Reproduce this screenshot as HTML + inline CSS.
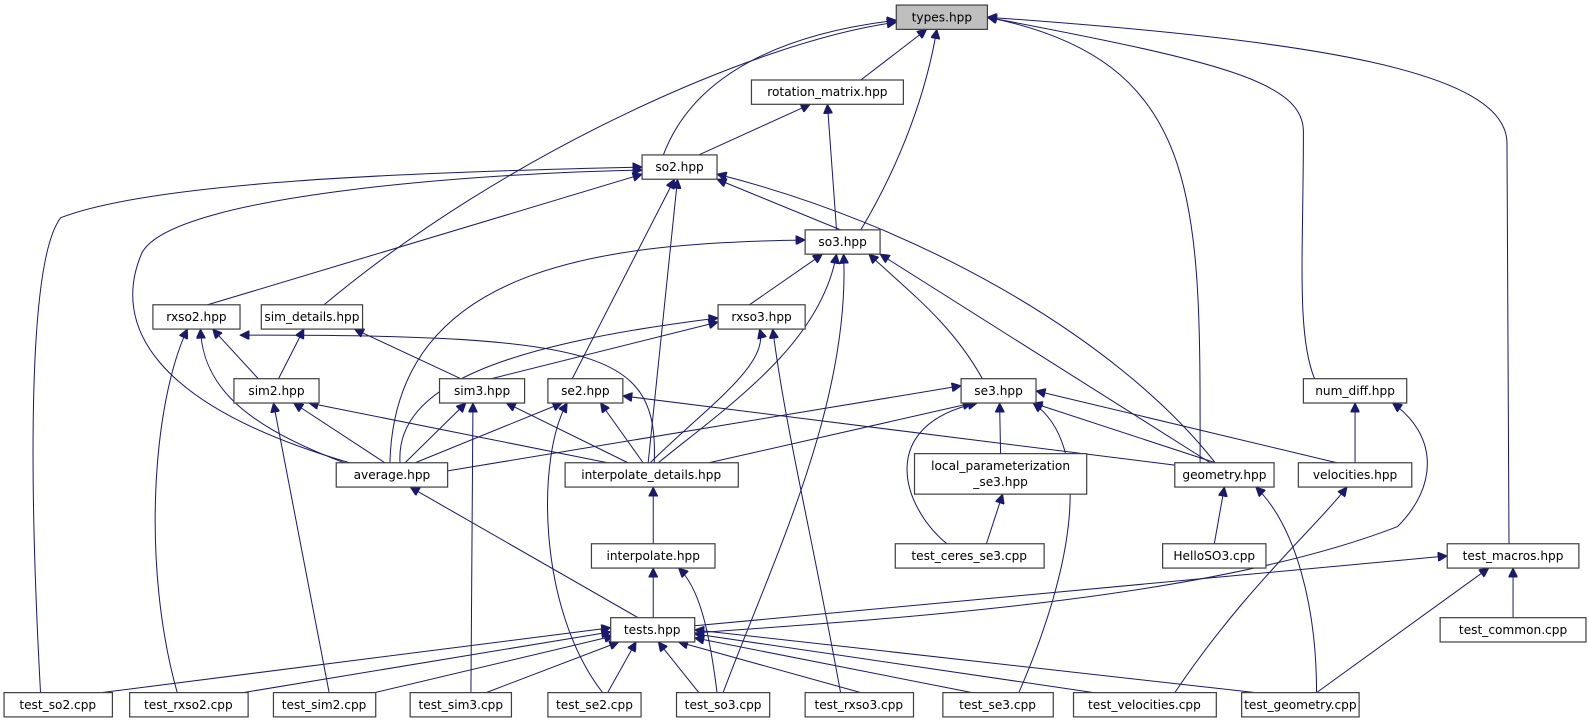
<!DOCTYPE html>
<html><head><meta charset="utf-8"><style>
html,body{margin:0;padding:0;background:#fff;}
svg{display:block;}
text{font-family:"DejaVu Sans","Liberation Sans",sans-serif;font-size:12px;fill:#000;}
.n{fill:#fff;stroke:#404040;stroke-width:1.2;}
.e{fill:none;stroke:#191970;stroke-width:1;}
</style></head><body>
<svg width="1589" height="724" viewBox="0 0 1569 715" preserveAspectRatio="none" xmlns="http://www.w3.org/2000/svg">
<defs><marker id="a" viewBox="0 0 10 10" refX="10" refY="5" markerWidth="10" markerHeight="9" markerUnits="userSpaceOnUse" orient="auto"><path d="M0,0 L10,5 L0,10 z" fill="#191970" stroke="#191970"/></marker></defs>
<g class="e" marker-end="url(#a)">
<path d="M655,153 C690,60 800,30 885,20"/>
<path d="M850,79 L915,29"/>
<path d="M850,227 C890,160 915,90 925,29"/>
<path d="M320,301 C500,150 750,40 885,22"/>
<path d="M1185,457 C1185,200 1190,60 975,17"/>
<path d="M1298,374 C1280,330 1287,250 1287,130 C1287,80 1200,60 975,17"/>
<path d="M1490,537 L1488,140 C1485,70 1300,40 975,17"/>
<path d="M690,153 L800,103"/>
<path d="M826,227 L817,103"/>
<path d="M830,227 L708,177"/>
<path d="M205,301 L634,172"/>
<path d="M345,457 C150,400 110,320 140,250 C170,190 500,170 634,168"/>
<path d="M640,457 L669,177"/>
<path d="M565,374 L666,177"/>
<path d="M1200,457 C1100,330 900,220 708,172"/>
<path d="M40,684 C30,500 25,260 60,215 C150,180 400,170 634,165"/>
<path d="M385,457 C390,260 600,240 795,237"/>
<path d="M740,301 L812,251"/>
<path d="M650,457 C720,400 810,340 826,251"/>
<path d="M970,374 C940,320 900,290 858,251"/>
<path d="M1195,457 L869,251"/>
<path d="M714,684 C760,560 840,400 833,251"/>
<path d="M255,374 L210,325"/>
<path d="M340,457 C240,420 200,380 198,325"/>
<path d="M175,684 C140,560 150,400 185,325"/>
<path d="M646,457 C650,350 600,330 237,331"/>
<path d="M275,374 L300,325"/>
<path d="M455,374 L350,325"/>
<path d="M485,374 L709,318"/>
<path d="M395,457 C390,380 500,340 709,314"/>
<path d="M642,457 C700,400 760,360 750,325"/>
<path d="M830,684 C800,520 775,420 763,325"/>
<path d="M380,457 L290,398"/>
<path d="M600,457 L305,398"/>
<path d="M325,684 L270,398"/>
<path d="M400,457 L460,398"/>
<path d="M620,457 L500,398"/>
<path d="M465,684 L467,398"/>
<path d="M410,457 L555,398"/>
<path d="M635,457 L593,398"/>
<path d="M1165,460 L615,391"/>
<path d="M595,684 C530,600 530,450 560,398"/>
<path d="M442,465 L949,381"/>
<path d="M700,457 L960,398"/>
<path d="M988,448 L987,398"/>
<path d="M1200,457 L1020,398"/>
<path d="M1320,457 L1023,386"/>
<path d="M935,537 C890,500 865,420 965,398"/>
<path d="M1006,684 C1060,560 1080,440 1020,398"/>
<path d="M1338,457 L1338,398"/>
<path d="M686,625 C900,610 1200,590 1380,520 C1420,480 1420,430 1375,398"/>
<path d="M630,610 L405,481"/>
<path d="M645,537 L645,481"/>
<path d="M974,537 L990,488"/>
<path d="M1199,537 L1209,481"/>
<path d="M1300,684 C1300,600 1280,520 1240,481"/>
<path d="M1160,684 C1230,580 1300,520 1330,481"/>
<path d="M645,610 L645,561"/>
<path d="M708,684 C700,620 690,580 670,561"/>
<path d="M686,618 L1429,549"/>
<path d="M1494,610 L1494,561"/>
<path d="M1300,684 L1470,561"/>
<path d="M100,684 L603,620"/>
<path d="M240,684 L603,624"/>
<path d="M370,684 L606,628"/>
<path d="M480,684 L611,634"/>
<path d="M600,684 L628,634"/>
<path d="M690,684 L650,634"/>
<path d="M850,684 L670,634"/>
<path d="M960,684 L686,630"/>
<path d="M1080,684 L686,626"/>
<path d="M1240,684 L686,622"/>
</g>
<g>
<rect x="885" y="5" width="90" height="24" style="fill:#bfbfbf;stroke:#404040;stroke-width:1.2"/><text x="930" y="21" text-anchor="middle">types.hpp</text>
<rect class="n" x="742" y="79" width="150" height="24"/><text x="817" y="95" text-anchor="middle">rotation_matrix.hpp</text>
<rect class="n" x="634" y="153" width="74" height="24"/><text x="671" y="169" text-anchor="middle">so2.hpp</text>
<rect class="n" x="795" y="227" width="74" height="24"/><text x="832" y="243" text-anchor="middle">so3.hpp</text>
<rect class="n" x="151" y="301" width="86" height="24"/><text x="194" y="317" text-anchor="middle">rxso2.hpp</text>
<rect class="n" x="258" y="301" width="100" height="24"/><text x="308" y="317" text-anchor="middle">sim_details.hpp</text>
<rect class="n" x="709" y="301" width="86" height="24"/><text x="752" y="317" text-anchor="middle">rxso3.hpp</text>
<rect class="n" x="231" y="374" width="84" height="24"/><text x="273" y="390" text-anchor="middle">sim2.hpp</text>
<rect class="n" x="434" y="374" width="84" height="24"/><text x="476" y="390" text-anchor="middle">sim3.hpp</text>
<rect class="n" x="541" y="374" width="74" height="24"/><text x="578" y="390" text-anchor="middle">se2.hpp</text>
<rect class="n" x="949" y="374" width="74" height="24"/><text x="986" y="390" text-anchor="middle">se3.hpp</text>
<rect class="n" x="1287" y="374" width="102" height="24"/><text x="1338" y="390" text-anchor="middle">num_diff.hpp</text>
<rect class="n" x="332" y="457" width="110" height="24"/><text x="387" y="473" text-anchor="middle">average.hpp</text>
<rect class="n" x="558" y="457" width="171" height="24"/><text x="643" y="473" text-anchor="middle">interpolate_details.hpp</text>
<rect class="n" x="903" y="448" width="170" height="40"/><text x="988" y="464" text-anchor="middle">local_parameterization</text><text x="988" y="480" text-anchor="middle">_se3.hpp</text>
<rect class="n" x="1160" y="457" width="98" height="24"/><text x="1209" y="473" text-anchor="middle">geometry.hpp</text>
<rect class="n" x="1282" y="457" width="112" height="24"/><text x="1338" y="473" text-anchor="middle">velocities.hpp</text>
<rect class="n" x="584" y="537" width="122" height="24"/><text x="645" y="553" text-anchor="middle">interpolate.hpp</text>
<rect class="n" x="884" y="537" width="147" height="24"/><text x="957" y="553" text-anchor="middle">test_ceres_se3.cpp</text>
<rect class="n" x="1148" y="537" width="102" height="24"/><text x="1199" y="553" text-anchor="middle">HelloSO3.cpp</text>
<rect class="n" x="1429" y="537" width="130" height="24"/><text x="1494" y="553" text-anchor="middle">test_macros.hpp</text>
<rect class="n" x="603" y="610" width="83" height="24"/><text x="644" y="626" text-anchor="middle">tests.hpp</text>
<rect class="n" x="1422" y="610" width="144" height="24"/><text x="1494" y="626" text-anchor="middle">test_common.cpp</text>
<rect class="n" x="4" y="684" width="107" height="24"/><text x="57" y="700" text-anchor="middle">test_so2.cpp</text>
<rect class="n" x="128" y="684" width="117" height="24"/><text x="186" y="700" text-anchor="middle">test_rxso2.cpp</text>
<rect class="n" x="270" y="684" width="101" height="24"/><text x="320" y="700" text-anchor="middle">test_sim2.cpp</text>
<rect class="n" x="405" y="684" width="100" height="24"/><text x="455" y="700" text-anchor="middle">test_sim3.cpp</text>
<rect class="n" x="541" y="684" width="92" height="24"/><text x="587" y="700" text-anchor="middle">test_se2.cpp</text>
<rect class="n" x="668" y="684" width="92" height="24"/><text x="714" y="700" text-anchor="middle">test_so3.cpp</text>
<rect class="n" x="795" y="684" width="107" height="24"/><text x="848" y="700" text-anchor="middle">test_rxso3.cpp</text>
<rect class="n" x="931" y="684" width="109" height="24"/><text x="985" y="700" text-anchor="middle">test_se3.cpp</text>
<rect class="n" x="1060" y="684" width="141" height="24"/><text x="1130" y="700" text-anchor="middle">test_velocities.cpp</text>
<rect class="n" x="1226" y="684" width="116" height="24"/><text x="1284" y="700" text-anchor="middle">test_geometry.cpp</text>
</g>
</svg>
</body></html>
